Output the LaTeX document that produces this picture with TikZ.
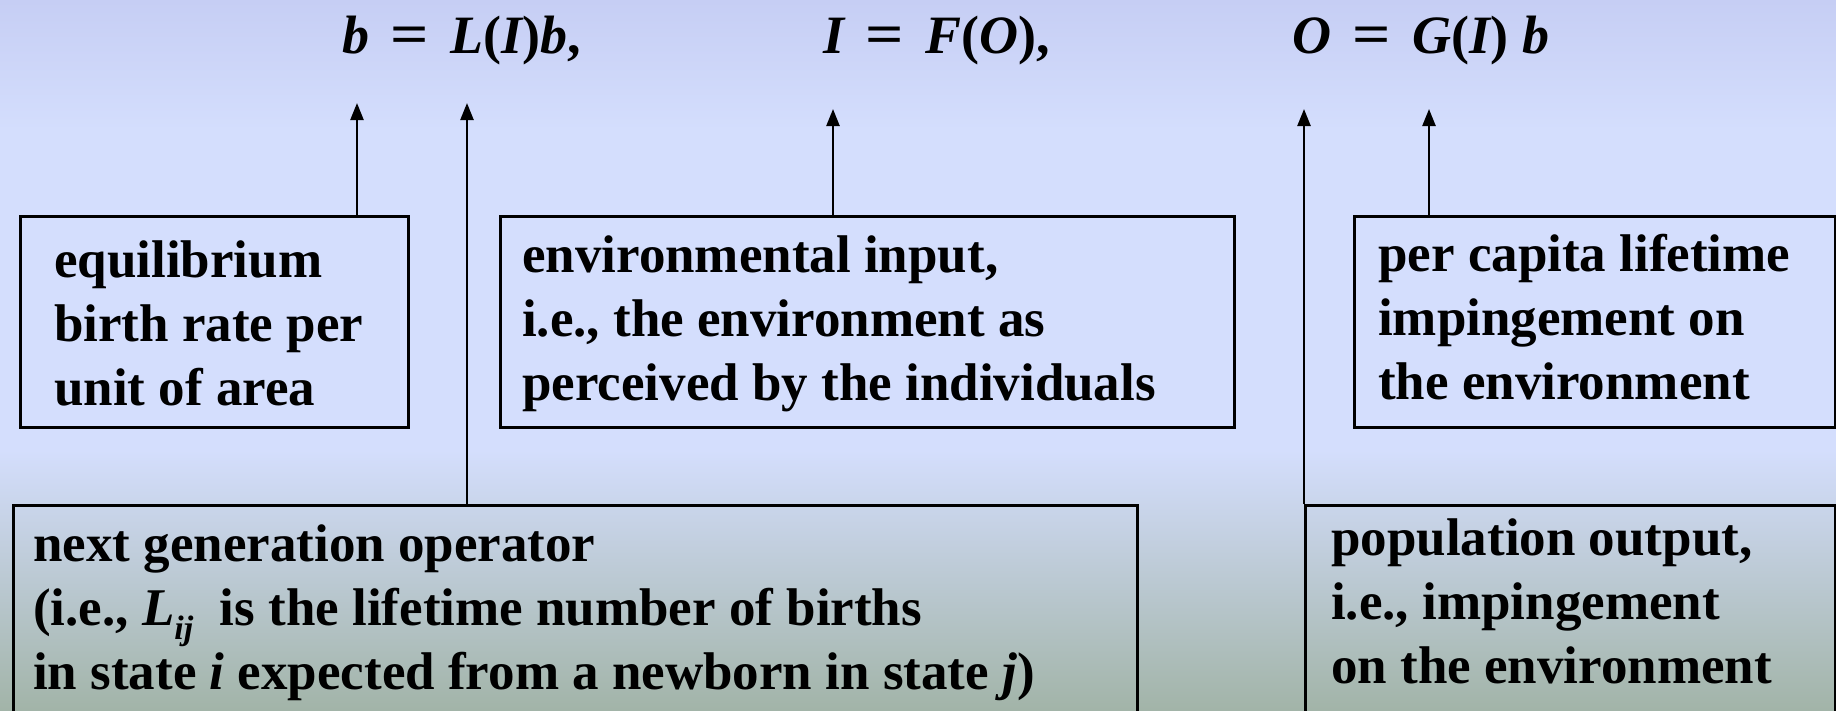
\documentclass[tikz,border=0pt]{standalone}
\usepackage{fontspec}
\setmainfont{Liberation Serif}
\usetikzlibrary{arrows.meta}
\definecolor{bgtop}{RGB}{198,206,244}
\definecolor{bgmid}{RGB}{212,222,253}
\definecolor{bgbot}{RGB}{162,180,168}
\newcommand{\eqsign}{\hspace{.40em}\scalebox{1.25}[1.05]{\upshape=}\hspace{.40em}}
\begin{document}
\begin{tikzpicture}[x=1pt,y=-1pt,
  box/.style={draw=black,line width=2.6pt,rectangle,inner sep=0pt,anchor=north west},
  txt/.style={anchor=base west,inner sep=0pt,font=\fontsize{53}{64}\selectfont\bfseries},
  eq/.style={anchor=base west,inner sep=0pt,font=\fontsize{54}{62}\selectfont\bfseries\itshape},
  arr/.style={line width=2.4pt,-{Triangle[length=17pt,width=13pt]}}]
\useasboundingbox (0,0) rectangle (1836,710);
\clip (0,0) rectangle (1836,710);
\fill[top color=bgtop,bottom color=bgmid] (0,0) rectangle (1836,131);
\fill[bgmid] (0,130) rectangle (1836,451);
\fill[top color=bgmid,bottom color=bgbot] (0,450) rectangle (1836,710);

% equations
\node[eq] (e1) at (342,53) {b\eqsign\itshape L\upshape(\itshape I\upshape)\itshape b\upshape,};
\node[eq] (e2) at (823,53) {I\eqsign\itshape F\upshape(\itshape O\upshape),};
\node[eq] (e3) at (1292,53) {O\eqsign\itshape G\upshape(\itshape I\upshape)\itshape\ b};

% boxes
\node[box,minimum width=388pt,minimum height=211pt] (b1) at (19,215) {};
\node[box,minimum width=734pt,minimum height=211pt] (b2) at (499,215) {};
\node[box,minimum width=481pt,minimum height=211pt] (b3) at (1353,215) {};
\node[box,minimum width=1124pt,minimum height=240pt] (b4) at (12,504) {};
\node[box,minimum width=530pt,minimum height=240pt] (b5) at (1304,504) {};

% texts
\node[txt] (t1) at (54,277) {\vtop{\hbox{equilibrium}\hbox{birth rate per}\hbox{unit of area}}};
\node[txt] (t2) at (522,272) {\vtop{\hbox{environmental input,}\hbox{i.e., the environment as}\hbox{perceived by the individuals}}};
\node[txt] (t3) at (1378,271) {\vtop{\hbox{per capita lifetime}\hbox{impingement on}\hbox{the environment}}};
\node[txt] (t4) at (33,561) {\vtop{\hbox{next generation operator}\hbox{(i.e., \textit{L}\raisebox{-0.28em}{\fontsize{34}{34}\selectfont\itshape ij}\ \ is the lifetime number of births}\hbox{in state \textit{i} expected from a newborn in state \textit{j})}}};
\node[txt] (t5) at (1331,555) {\vtop{\hbox{population output,}\hbox{i.e., impingement}\hbox{on the environment}}};

% arrows
\coordinate (p1) at (357,103);
\coordinate (p2) at (467,103);
\coordinate (p3) at (833,109);
\coordinate (p4) at (1304,109);
\coordinate (p5) at (1429,109);
\draw[arr] (p1 |- b1.north) -- (p1);
\draw[arr] (p2 |- b4.north) -- (p2);
\draw[arr] (p3 |- b2.north) -- (p3);
\draw[arr] (p4 |- b5.north) -- (p4);
\draw[arr] (p5 |- b3.north) -- (p5);
\end{tikzpicture}
\end{document}
